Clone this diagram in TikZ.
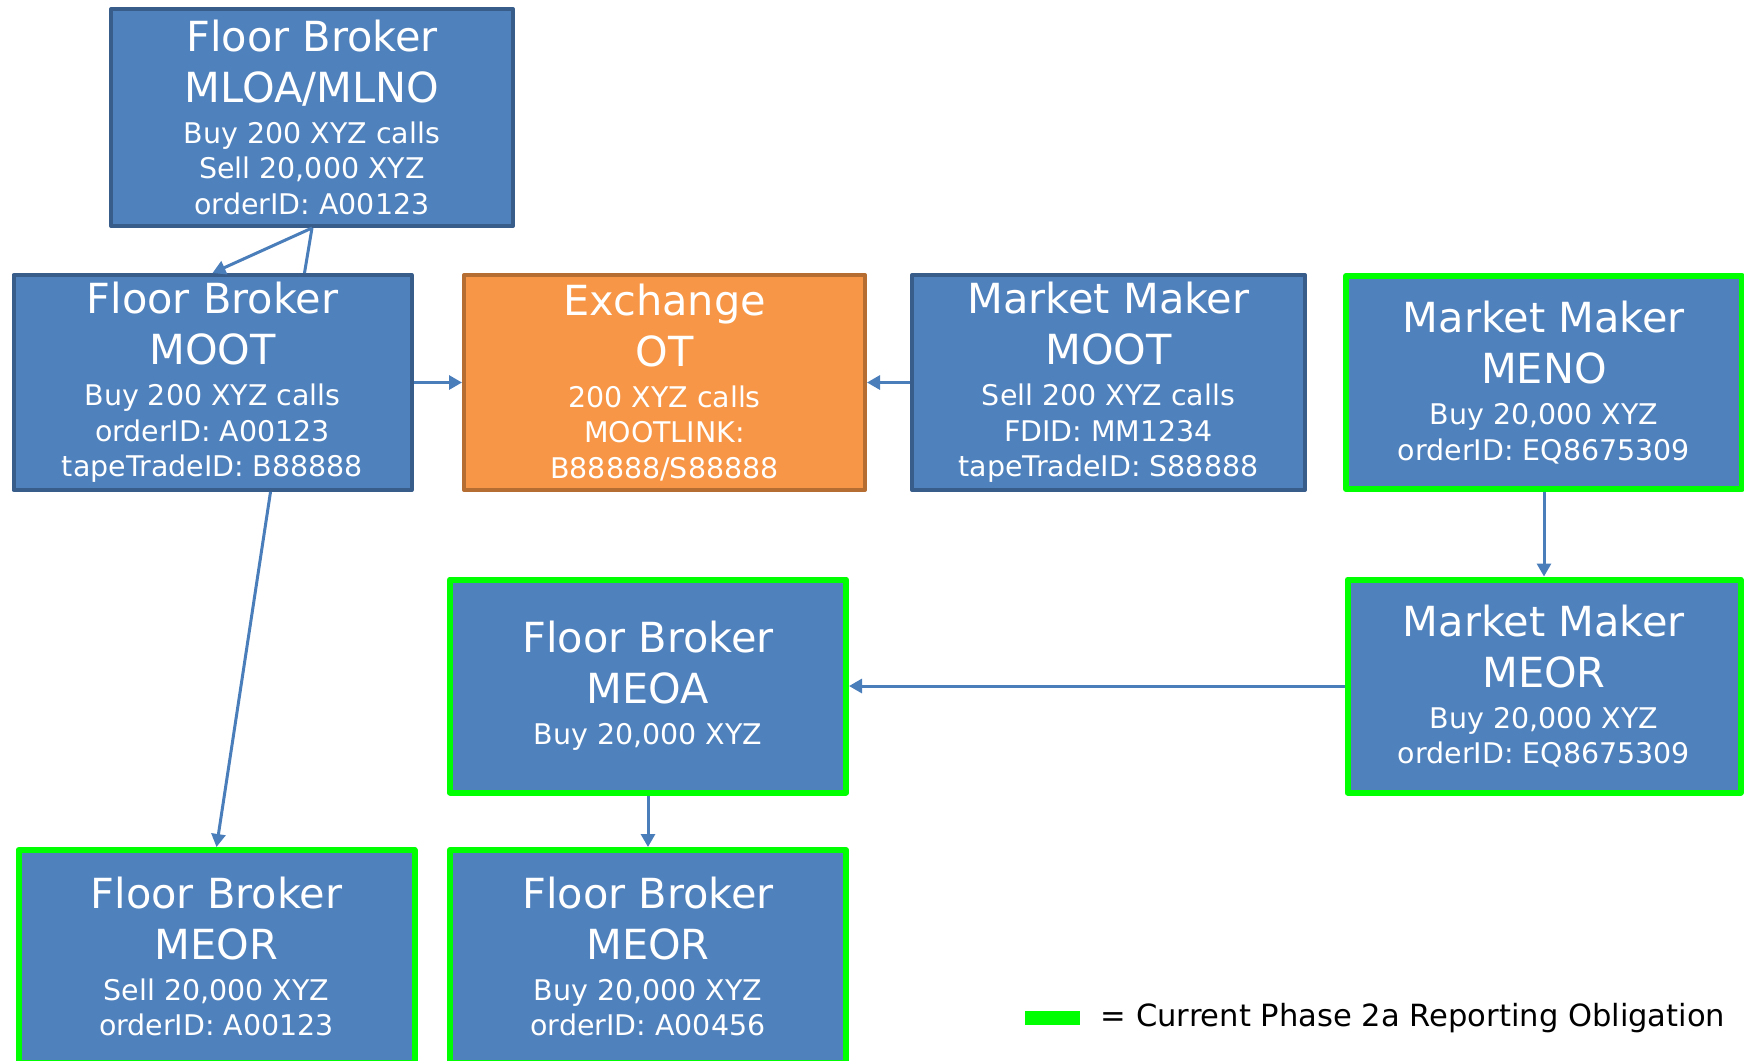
\documentclass[tikz,border=0pt]{standalone}
\usepackage{fontspec}
\setmainfont{DejaVu Sans}
\usetikzlibrary{arrows.meta,positioning}
\definecolor{boxblue}{HTML}{4F81BD}
\definecolor{boxedge}{HTML}{385D8A}
\definecolor{exfill}{HTML}{F79646}
\definecolor{exedge}{HTML}{B66D31}
\definecolor{linkblue}{HTML}{4A7EBB}
\definecolor{obliggreen}{HTML}{00FF00}
\newcommand\ttl{\fontsize{11.8}{14.5}\selectfont}
\newcommand\sml{\fontsize{8.1}{10.1}\selectfont}
\begin{document}
\begin{tikzpicture}[x=0.1mm,y=-0.1mm,line join=round,
		box/.style={rectangle,draw=boxedge,fill=boxblue,line width=0.4mm,text=white,font=\sml,align=center,inner sep=0pt,minimum width=39.8mm,minimum height=21.5mm},
		hot/.style={box,draw=obliggreen,line width=0.6mm,minimum width=39.6mm,minimum height=21.3mm},
		exch/.style={box,draw=exedge,fill=exfill},
		link/.style={draw=linkblue,line width=0.3mm,-{Triangle[length=1.3mm,width=1.4mm]}}]
		\useasboundingbox (0,0) rectangle (1744,1060);
		\node[box,minimum width=40.2mm,minimum height=21.7mm] (mloa) at (312,117.5) {\ttl Floor Broker\\[4.4pt]\ttl MLOA/MLNO\\[1.5pt]Buy 200 XYZ calls\\Sell 20,000 XYZ\\orderID: A00123};
		\node[box] (fbmoot) at (212.5,382.5) {\ttl Floor Broker\\[4.4pt]\ttl MOOT\\[1.5pt]Buy 200 XYZ calls\\orderID: A00123\\tapeTradeID: B88888};
		\node[exch,minimum width=40.1mm] (exch) at (664.5,382.5) {\ttl Exchange\\[2.2pt]\ttl OT\\[1.5pt]200 XYZ calls\\MOOTLINK:\\B88888/S88888};
		\node[box,minimum width=39.3mm] (mmmoot) at (1108.5,382.5) {\ttl Market Maker\\[4.4pt]\ttl MOOT\\[1.5pt]Sell 200 XYZ calls\\FDID: MM1234\\tapeTradeID: S88888};
		\node[hot] (meno) at (1544,382.5) {\ttl Market Maker\\[4.4pt]\ttl MENO\\[1.5pt]Buy 20,000 XYZ\\orderID: EQ8675309};
		\node[hot] (meoa) at (648,686) {\ttl Floor Broker\\[4.4pt]\ttl MEOA\\[1.5pt]Buy 20,000 XYZ};
		\node[hot,minimum width=39.3mm] (mmeor) at (1544,686) {\ttl Market Maker\\[4.4pt]\ttl MEOR\\[1.5pt]Buy 20,000 XYZ\\orderID: EQ8675309};
		\node[hot] (fbmeor1) at (216.5,956.5) {\ttl Floor Broker\\[4.4pt]\ttl MEOR\\[1.5pt]Sell 20,000 XYZ\\orderID: A00123};
		\node[hot] (fbmeor2) at (648,956.5) {\ttl Floor Broker\\[4.4pt]\ttl MEOR\\[1.5pt]Buy 20,000 XYZ\\orderID: A00456};
		\draw[link] (mloa.south) -- (fbmoot.north);
		\draw[draw=linkblue,line width=0.3mm] (mloa.south) -- ([xshift=9.2mm]fbmoot.north);
		\draw[link] (fbmoot.east) -- (exch.west);
		\draw[link] (mmmoot.west) -- (exch.east);
		\draw[link] ([xshift=5.8mm]fbmoot.south) -- (fbmeor1.north);
		\draw[link] (meno.south) -- (mmeor.north);
		\draw[link] (mmeor.west) -- (meoa.east);
		\draw[link] (meoa.south) -- (fbmeor2.north);
		\node[fill=obliggreen,inner sep=0pt,minimum width=5.5mm,minimum height=1.4mm] (key) at (1052,1018) {};
		\node[anchor=base west,inner sep=0pt,font=\fontsize{8.7}{10}\selectfont] (keytext) at ([xshift=2mm,yshift=-0.8mm]key.east) {= Current Phase 2a Reporting Obligation};
\end{tikzpicture}
\end{document}
